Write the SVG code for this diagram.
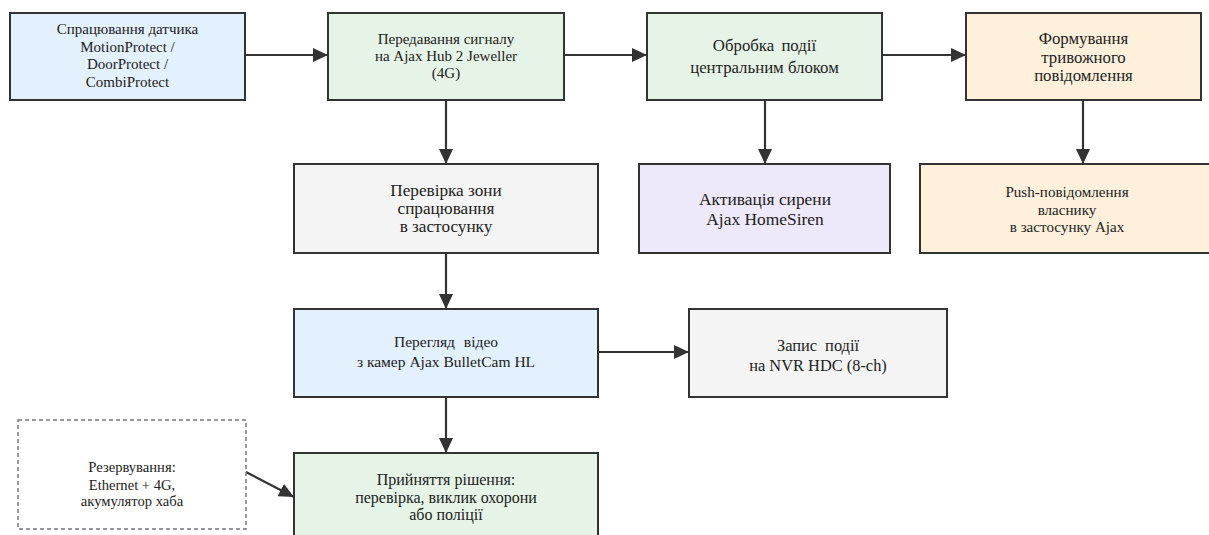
<svg xmlns="http://www.w3.org/2000/svg" width="1209" height="535" viewBox="0 0 1209 535">
<style>
.n{stroke:#333;stroke-width:2}
.blue{fill:#e3f0fd}
.green{fill:#e6f4e7}
.orange{fill:#fff0dc}
.grey{fill:#f4f4f4}
.purple{fill:#eee8fb}
.dash{fill:#fff;stroke:#777;stroke-width:1.5;stroke-dasharray:4 3}
text{font-family:"Liberation Serif","Times New Roman",serif;fill:#222;text-anchor:middle}
.c{stroke:#333;stroke-width:2.2;fill:none;marker-end:url(#ah)}
</style>
<defs>
<marker id="ah" markerUnits="userSpaceOnUse" markerWidth="15" markerHeight="14" refX="15" refY="7" orient="auto">
<path d="M0,0 L15,7 L0,14 z" fill="#333"/>
</marker>
</defs>
<rect width="1209" height="535" fill="#fff"/>
<g id="connectors">
<line class="c" x1="245" y1="55" x2="328" y2="55"/>
<line class="c" x1="564" y1="55" x2="647" y2="55"/>
<line class="c" x1="882" y1="55" x2="966" y2="55"/>
<line class="c" x1="446" y1="100" x2="446" y2="164"/>
<line class="c" x1="765" y1="100" x2="765" y2="164"/>
<line class="c" x1="1083" y1="100" x2="1083" y2="164"/>
<line class="c" x1="446" y1="253" x2="446" y2="309"/>
<line class="c" x1="598" y1="352" x2="689" y2="352"/>
<line class="c" x1="446" y1="397" x2="446" y2="453"/>
<line class="c" x1="246" y1="472" x2="294" y2="497"/>
</g>
<g id="n1">
<rect class="n blue" x="10" y="13" width="235" height="87"/>
<text font-size="15"><tspan x="127.5" y="34">Спрацювання датчика</tspan><tspan x="127.5" y="51.5">MotionProtect /</tspan><tspan x="127.5" y="69">DoorProtect /</tspan><tspan x="127.5" y="86.5">CombiProtect</tspan></text>
</g>
<g id="n2">
<rect class="n green" x="328" y="13" width="236" height="87"/>
<text font-size="15"><tspan x="446" y="43.5">Передавання сигналу</tspan><tspan x="446" y="60.5">на Ajax Hub 2 Jeweller</tspan><tspan x="446" y="77.5">(4G)</tspan></text>
</g>
<g id="n3">
<rect class="n green" x="647" y="13" width="235" height="87"/>
<text font-size="16.8"><tspan x="764.5" y="51" word-spacing="3">Обробка події</tspan><tspan x="764.5" y="73">центральним блоком</tspan></text>
</g>
<g id="n4">
<rect class="n orange" x="966" y="13" width="235" height="87"/>
<text font-size="16.8"><tspan x="1083.5" y="44">Формування</tspan><tspan x="1083.5" y="62.5">тривожного</tspan><tspan x="1083.5" y="81">повідомлення</tspan></text>
</g>
<g id="n5">
<rect class="n grey" x="294" y="164" width="304" height="89"/>
<text font-size="17.2"><tspan x="446" y="195.5">Перевірка зони</tspan><tspan x="446" y="214">спрацювання</tspan><tspan x="446" y="232">в застосунку</tspan></text>
</g>
<g id="n6">
<rect class="n purple" x="639" y="164" width="251" height="89"/>
<text font-size="17.4"><tspan x="765" y="205">Активація сирени</tspan><tspan x="765" y="225">Ajax HomeSiren</tspan></text>
</g>
<g id="n7">
<rect class="n orange" x="920" y="164" width="294" height="89"/>
<text font-size="15.1"><tspan x="1067" y="196.5">Push-повідомлення</tspan><tspan x="1067" y="215">власнику</tspan><tspan x="1067" y="232">в застосунку Ajax</tspan></text>
</g>
<g id="n8">
<rect class="n blue" x="294" y="309" width="304" height="88"/>
<text font-size="15.5"><tspan x="446" y="347" word-spacing="5">Перегляд відео</tspan><tspan x="446" y="367">з камер Ajax BulletCam HL</tspan></text>
</g>
<g id="n9">
<rect class="n grey" x="689" y="309" width="258" height="88"/>
<text font-size="16.4"><tspan x="818" y="350.5" word-spacing="4">Запис події</tspan><tspan x="818" y="370.5">на NVR HDC (8-ch)</tspan></text>
</g>
<g id="n10">
<rect class="n green" x="294" y="453" width="304" height="95"/>
<text font-size="16"><tspan x="446" y="484.5">Прийняття рішення:</tspan><tspan x="446" y="502.5">перевірка, виклик охорони</tspan><tspan x="446" y="520">або поліції</tspan></text>
</g>
<g id="n11">
<rect class="dash" x="18" y="420" width="228" height="109"/>
<text font-size="14.6"><tspan x="132" y="472">Резервування:</tspan><tspan x="132" y="489.5">Ethernet + 4G,</tspan><tspan x="132" y="506">акумулятор хаба</tspan></text>
</g>
</svg>
